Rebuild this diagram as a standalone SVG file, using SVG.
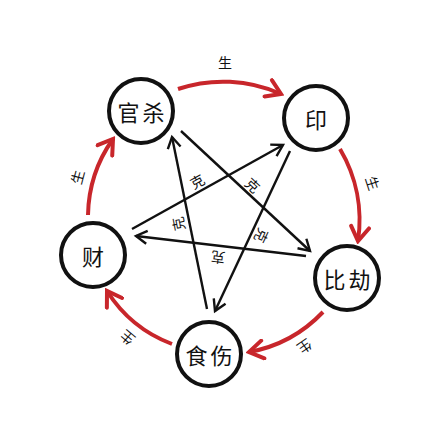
<svg xmlns="http://www.w3.org/2000/svg" width="436" height="428" viewBox="0 0 436 428">
<style>
.node{fill:#fff;stroke:#111;stroke-width:4}
.nt{font-family:"Noto Sans CJK SC","Noto Sans",sans-serif;font-size:22px;fill:#111;text-anchor:middle;dominant-baseline:central}
.lbl{font-family:"Noto Sans CJK SC","Noto Sans",sans-serif;font-size:14px;fill:#111;text-anchor:middle;dominant-baseline:central}
.sheng{fill:none;stroke:#c8262b;stroke-width:4}
.ke{fill:none;stroke:#111;stroke-width:2.4}
</style>
<defs>
<marker id="ar" markerUnits="userSpaceOnUse" markerWidth="20" markerHeight="22" refX="17" refY="11" orient="auto" viewBox="0 0 20 22">
<path d="M3,2 L17,11 L3,20" fill="none" stroke="#c8262b" stroke-width="4" stroke-linecap="round"/>
</marker>
<marker id="ak" markerUnits="userSpaceOnUse" markerWidth="16" markerHeight="16" refX="13" refY="8" orient="auto" viewBox="0 0 16 16">
<path d="M2,1.5 L13,8 L2,14.5" fill="none" stroke="#111" stroke-width="2.4"/>
</marker>
</defs>
<rect width="436" height="428" fill="#fff"/>
<g id="connectors">
<path class="sheng" d="M178,89 A142,142 0 0 1 281,94" marker-end="url(#ar)"/>
<path class="sheng" d="M340,149 A140,140 0 0 1 358,241" marker-end="url(#ar)"/>
<path class="sheng" d="M323,312 A135,135 0 0 1 249,352" marker-end="url(#ar)"/>
<path class="sheng" d="M172,344 A132,132 0 0 1 107,291" marker-end="url(#ar)"/>
<path class="sheng" d="M88,215 A135,135 0 0 1 113,139" marker-end="url(#ar)"/>
<path class="ke" d="M207,309 L172,137" marker-end="url(#ak)"/>
<path class="ke" d="M181,131 L310,251" marker-end="url(#ak)"/>
<path class="ke" d="M306,256 L136,236" marker-end="url(#ak)"/>
<path class="ke" d="M132,229 L283,145" marker-end="url(#ak)"/>
<path class="ke" d="M290,151 L215,311" marker-end="url(#ak)"/>
<text class="lbl" x="225" y="62">生</text>
<text class="lbl" transform="translate(373,183) rotate(72)">生</text>
<text class="lbl" transform="translate(305,347) rotate(145)">生</text>
<text class="lbl" transform="translate(127,338) rotate(220)">生</text>
<text class="lbl" transform="translate(77,177) rotate(-75)">生</text>
<text class="lbl" transform="translate(197,181) rotate(-29)">克</text>
<text class="lbl" transform="translate(253,185) rotate(43)">克</text>
<text class="lbl" transform="translate(178,224) rotate(-101)">克</text>
<text class="lbl" transform="translate(262,236) rotate(115)">克</text>
<text class="lbl" transform="translate(218,258) rotate(187)">克</text>
</g>
<g id="guansha"><circle class="node" cx="141" cy="111" r="32"/><text class="nt" x="142.5" y="111" letter-spacing="3">官杀</text></g>
<g id="yin"><circle class="node" cx="316" cy="118" r="32"/><text class="nt" x="316" y="118">印</text></g>
<g id="cai"><circle class="node" cx="93" cy="255" r="32"/><text class="nt" x="93" y="255">财</text></g>
<g id="bijie"><circle class="node" cx="347" cy="278" r="32"/><text class="nt" x="348.5" y="278" letter-spacing="3">比劫</text></g>
<g id="shishang"><circle class="node" cx="209" cy="354" r="32"/><text class="nt" x="210.5" y="354" letter-spacing="3">食伤</text></g>
</svg>
